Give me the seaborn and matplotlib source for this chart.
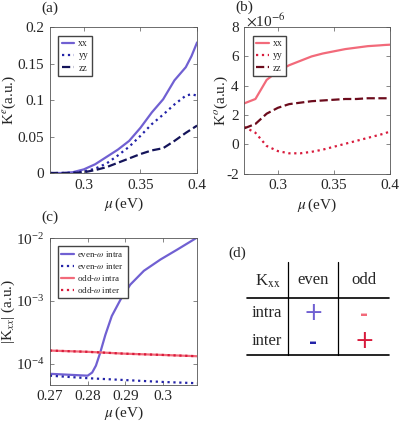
import numpy as np
import matplotlib.pyplot as plt
import matplotlib.ticker as mticker
import seaborn as sns

sns.set_style("ticks")
plt.rcParams['font.family'] = ['Liberation Serif', 'DejaVu Serif']
plt.rcParams['mathtext.fontset'] = 'stix'
plt.rcParams['xtick.direction'] = 'in'
plt.rcParams['ytick.direction'] = 'in'

# ---- data ----
mu_ab = [0.27, 0.28, 0.29, 0.30, 0.31, 0.32, 0.33, 0.34, 0.35, 0.36, 0.37, 0.38, 0.39, 0.395, 0.40]
ke_xx = [0.0, 0.0, 0.001, 0.005, 0.012, 0.022, 0.032, 0.044, 0.062, 0.083, 0.101, 0.127, 0.145, 0.160, 0.179]
ke_yy = [0.0, 0.0, 0.0005, 0.002, 0.006, 0.013, 0.024, 0.036, 0.051, 0.067, 0.080, 0.094, 0.106, 0.108, 0.106]
ke_zz = [0.0, 0.0, 0.0, 0.001, 0.004, 0.008, 0.014, 0.020, 0.026, 0.031, 0.034, 0.044, 0.055, 0.060, 0.065]

# panel (b), in units of 1e-6
ko_xx = [2.8, 3.1, 4.4, 5.0, 5.4, 5.7, 6.0, 6.2, 6.35, 6.5, 6.6, 6.7, 6.75, 6.78, 6.8]
ko_yy = [1.2, 0.8, -0.1, -0.45, -0.6, -0.6, -0.5, -0.35, -0.15, 0.05, 0.25, 0.45, 0.65, 0.75, 0.9]
ko_zz = [1.1, 1.4, 2.1, 2.5, 2.75, 2.85, 2.95, 3.0, 3.05, 3.1, 3.1, 3.15, 3.15, 3.15, 3.15]

# panel (c), log10 of |K_xx|
mu_c = [0.27, 0.28, 0.2812, 0.2822, 0.2833, 0.2847, 0.2864, 0.2887, 0.2913, 0.2949, 0.2993, 0.3038, 0.309]
log_even_intra = [-4.16, -4.19, -4.14, -4.03, -3.83, -3.54, -3.24, -2.98, -2.74, -2.52, -2.34, -2.18, -1.99]
mu_c2 = [0.27, 0.28, 0.29, 0.30, 0.309]
log_even_inter = [-4.19, -4.23, -4.26, -4.29, -4.31]
log_odd_intra = [-3.79, -3.81, -3.84, -3.86, -3.88]
log_odd_inter = [-3.79, -3.81, -3.84, -3.86, -3.88]

table_cols = ['even', 'odd']
table_rows = ['intra', 'inter']
table_signs = [['+', '-'], ['-', '+']]

c_xx_e, c_yy_e, c_zz_e = '#7060d2', '#2323a8', '#14145a'
c_xx_o, c_yy_o, c_zz_o = '#f26a7a', '#d81b3c', '#6c0b1c'
sign_colors = [[c_xx_e, c_xx_o], [c_yy_e, c_yy_o]]

fig = plt.figure(figsize=(3.99, 4.23), dpi=100)
ax_a = fig.add_axes([0.125, 0.591, 0.369, 0.345])
ax_b = fig.add_axes([0.612, 0.589, 0.366, 0.347])
ax_c = fig.add_axes([0.125, 0.090, 0.369, 0.347])

lw = 1.6
fs = 11

def style(ax):
    for s in ax.spines.values():
        s.set_color('#555555')
        s.set_linewidth(0.6)
    ax.tick_params(top=True, right=True, labelsize=fs, length=3, width=0.5,
                   color='#555555', pad=4)

def legend(ax, size, spacing, hl):
    ax.legend(loc='upper left', fontsize=size, handlelength=hl, handletextpad=0.4,
              borderpad=0.35, labelspacing=spacing, fancybox=False,
              edgecolor='#444444', framealpha=1, bbox_to_anchor=(0.025, 0.975))

# (a)
sns.lineplot(x=mu_ab, y=ke_xx, ax=ax_a, color=c_xx_e, lw=lw, label='xx')
sns.lineplot(x=mu_ab, y=ke_yy, ax=ax_a, color=c_yy_e, lw=lw, ls=':', label='yy')
sns.lineplot(x=mu_ab, y=ke_zz, ax=ax_a, color=c_zz_e, lw=lw, ls='--', label='zz')
ax_a.set_xlim(0.27, 0.4)
ax_a.set_ylim(0, 0.2)
ax_a.set_xticks([0.3, 0.35, 0.4])
ax_a.set_yticks([0, 0.05, 0.1, 0.15, 0.2])
ax_a.xaxis.set_major_formatter(mticker.FormatStrFormatter('%g'))
ax_a.yaxis.set_major_formatter(mticker.FormatStrFormatter('%g'))
ax_a.set_xlabel(r'$\mu\,$(eV)', fontsize=fs, labelpad=3)
ax_a.set_ylabel(r'K$^{e}$(a.u.)', fontsize=fs)
ax_a.yaxis.set_label_coords(-0.215, 0.5)
legend(ax_a, 7, 0.35, 1.3)
style(ax_a)

# (b)
sns.lineplot(x=mu_ab, y=np.array(ko_xx) * 1e-6, ax=ax_b, color=c_xx_o, lw=lw, label='xx')
sns.lineplot(x=mu_ab, y=np.array(ko_yy) * 1e-6, ax=ax_b, color=c_yy_o, lw=lw, ls=':', label='yy')
sns.lineplot(x=mu_ab, y=np.array(ko_zz) * 1e-6, ax=ax_b, color=c_zz_o, lw=lw, ls='--', label='zz')
ax_b.set_xlim(0.27, 0.4)
ax_b.set_ylim(-2e-6, 8e-6)
ax_b.set_xticks([0.3, 0.35, 0.4])
ax_b.set_yticks(np.arange(-2, 9, 2) * 1e-6)
ax_b.xaxis.set_major_formatter(mticker.FormatStrFormatter('%g'))
ax_b.yaxis.set_major_formatter(mticker.FuncFormatter(lambda v, p: '%g' % round(v * 1e6)))
ax_b.text(0.01, 1.045, r'$\times$10$^{-6}$', transform=ax_b.transAxes, fontsize=fs,
          ha='left', va='center')
ax_b.set_xlabel(r'$\mu\,$(eV)', fontsize=fs, labelpad=3)
ax_b.set_ylabel(r'K$^{o}$(a.u.)', fontsize=fs)
ax_b.yaxis.set_label_coords(-0.1, 0.5)
legend(ax_b, 7, 0.35, 1.3)
style(ax_b)

# (c)
sns.lineplot(x=mu_c, y=10 ** np.array(log_even_intra), ax=ax_c, color=c_xx_e, lw=lw,
             label=r'even-$\omega$ intra')
sns.lineplot(x=mu_c2, y=10 ** np.array(log_even_inter), ax=ax_c, color=c_yy_e, lw=lw, ls=':',
             label=r'even-$\omega$ inter')
sns.lineplot(x=mu_c2, y=10 ** np.array(log_odd_intra), ax=ax_c, color=c_xx_o, lw=lw,
             label=r'odd-$\omega$ intra')
sns.lineplot(x=mu_c2, y=10 ** np.array(log_odd_inter), ax=ax_c, color=c_yy_o, lw=lw, ls=':',
             label=r'odd-$\omega$ inter')
ax_c.set_yscale('log')
ax_c.set_xlim(0.27, 0.309)
ax_c.set_ylim(4.6e-5, 1e-2)
ax_c.set_xticks([0.27, 0.28, 0.29, 0.3])
ax_c.xaxis.set_major_formatter(mticker.FormatStrFormatter('%g'))
ax_c.yaxis.set_minor_locator(mticker.NullLocator())
ax_c.set_xlabel(r'$\mu\,$(eV)', fontsize=fs, labelpad=1)
ax_c.set_ylabel(r'|K$_{xx}$| (a.u.)', fontsize=fs)
ax_c.yaxis.set_label_coords(-0.22, 0.5)
legend(ax_c, 6.5, 0.2, 1.4)
style(ax_c)

# (d) sign table, drawn in pixel coordinates
ax_d = fig.add_axes([0, 0, 1, 1], zorder=-1)
ax_d.set_xlim(0, 399)
ax_d.set_ylim(423, 0)
ax_d.axis('off')
ax_d.plot([247, 389], [298, 298], color='black', lw=1.2)
ax_d.plot([247, 389], [355, 355], color='black', lw=1.2)
ax_d.plot([288, 288], [262, 355], color='black', lw=0.9)
ax_d.plot([338, 338], [262, 355], color='black', lw=0.9)
ax_d.text(268, 281, r'K$_{\mathrm{xx}}$', fontsize=12, ha='center', va='center')
col_x = [313, 364]
row_y = [313, 341]
for j, c in enumerate(table_cols):
    ax_d.text(col_x[j], 280, c, fontsize=12, ha='center', va='center')
for i, r in enumerate(table_rows):
    ax_d.text(267, row_y[i], r, fontsize=12, ha='center', va='center')
    for j in range(2):
        s = table_signs[i][j]
        if s == '+':
            ax_d.text(col_x[j], row_y[i], '+', fontsize=17, color=sign_colors[i][j],
                      ha='center', va='center', family='DejaVu Sans')
        else:
            ax_d.text(col_x[j], row_y[i] + 1, '-', fontsize=14, color=sign_colors[i][j],
                      ha='center', va='center', fontweight='bold', family='DejaVu Sans')

fig.text(50 / 399, 1 - 8 / 423, '(a)', fontsize=fs, ha='center', va='center')
fig.text(244 / 399, 1 - 7 / 423, '(b)', fontsize=fs, ha='center', va='center')
fig.text(50 / 399, 1 - 217 / 423, '(c)', fontsize=fs, ha='center', va='center')
fig.text(237 / 399, 1 - 253 / 423, '(d)', fontsize=fs, ha='center', va='center')

fig.savefig('out.png', dpi=100)
